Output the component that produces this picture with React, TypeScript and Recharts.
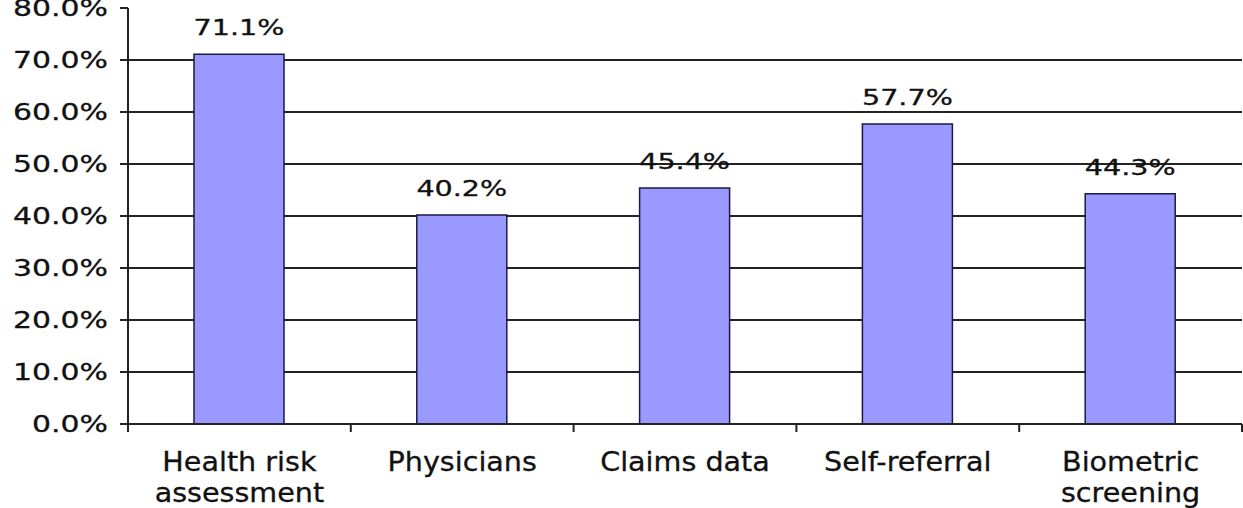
import React from "react";
import { BarChart, Bar, XAxis, YAxis, CartesianGrid, LabelList } from "recharts";

if (typeof document !== "undefined") {
  document.body.style.margin = "0";
}

const categories = ["Health risk assessment", "Physicians", "Claims data", "Self-referral", "Biometric screening"];
const labelLines: string[][] = [
  ["Health risk", "assessment"],
  ["Physicians"],
  ["Claims data"],
  ["Self-referral"],
  ["Biometric", "screening"],
];
const values = [71.1, 40.2, 45.4, 57.7, 44.3];
const yTicks = [0, 10, 20, 30, 40, 50, 60, 70, 80];

const data = categories.map((c, i) => ({ name: c, value: values[i], idx: i }));

const FONT = "'DejaVu Sans', Verdana, sans-serif";
const INK = "#111";

const YTick = (props: any) => {
  const { x, y, payload } = props;
  return (
    <text
      transform={`translate(${x},${y + 8}) scale(1.3,1)`}
      textAnchor="end"
      fontFamily={FONT}
      fontSize={23}
      fill={INK}
      stroke={INK}
      strokeWidth={0.3}
    >
      {`${Number(payload.value).toFixed(1)}%`}
    </text>
  );
};

const XTick = (props: any) => {
  const { x, y, payload, index } = props;
  const off = payload.offset ?? 111.4;
  const lines = labelLines[index] ?? [String(payload.value)];
  const axisY = y - 12;
  return (
    <g>
      {index === 0 && (
        <line x1={x - off} x2={x - off} y1={axisY} y2={axisY + 8} stroke="#222" strokeWidth={2} />
      )}
      <line x1={x + off} x2={x + off} y1={axisY} y2={axisY + 8} stroke="#222" strokeWidth={2} />
      {lines.map((l, i) => (
        <text
          key={i}
          transform={`translate(${x},${y + 35 + i * 31}) scale(1.1,1)`}
          textAnchor="middle"
          fontFamily={FONT}
          fontSize={26}
          fill={INK}
          stroke={INK}
          strokeWidth={0.3}
        >
          {l}
        </text>
      ))}
    </g>
  );
};

const ValueLabel = (props: any) => {
  const { x, y, width, value } = props;
  return (
    <text
      transform={`translate(${x + width / 2},${y - 19}) scale(1.3,1)`}
      textAnchor="middle"
      fontFamily={FONT}
      fontSize={22}
      fill={INK}
      stroke={INK}
      strokeWidth={0.3}
    >
      {`${Number(value).toFixed(1)}%`}
    </text>
  );
};

const GridLine = (props: any) => {
  const { x1, x2, y1, y2, index } = props;
  if (y1 < 12) return <g key={`g-${index}`} />;
  return <line key={`g-${index}`} x1={x1} x2={x2} y1={y1} y2={y2} stroke="#222" strokeWidth={2} />;
};

export default function App() {
  return (
    <div style={{ width: 1243, height: 508, background: "#fff" }}>
      <BarChart
        width={1243}
        height={508}
        data={data}
        margin={{ top: 8, right: 1, left: 0, bottom: 0 }}
      >
        <CartesianGrid vertical={false} horizontal={GridLine as any} />
        <XAxis
          dataKey="name"
          height={84}
          tickSize={8}
          tickMargin={4}
          tickLine={false}
          axisLine={{ stroke: "#222", strokeWidth: 2 }}
          tick={<XTick />}
          interval={0}
        />
        <YAxis
          width={128}
          domain={[0, 80]}
          ticks={yTicks}
          tickSize={8}
          tickMargin={12}
          interval={0}
          axisLine={{ stroke: "#222", strokeWidth: 2 }}
          tickLine={{ stroke: "#222", strokeWidth: 2 }}
          tick={<YTick />}
        />
        <Bar dataKey="value" fill="#9999FF" stroke="#1a1a40" strokeWidth={1.5} barSize={90} isAnimationActive={false}>
          <LabelList dataKey="value" content={<ValueLabel />} />
        </Bar>
      </BarChart>
    </div>
  );
}
